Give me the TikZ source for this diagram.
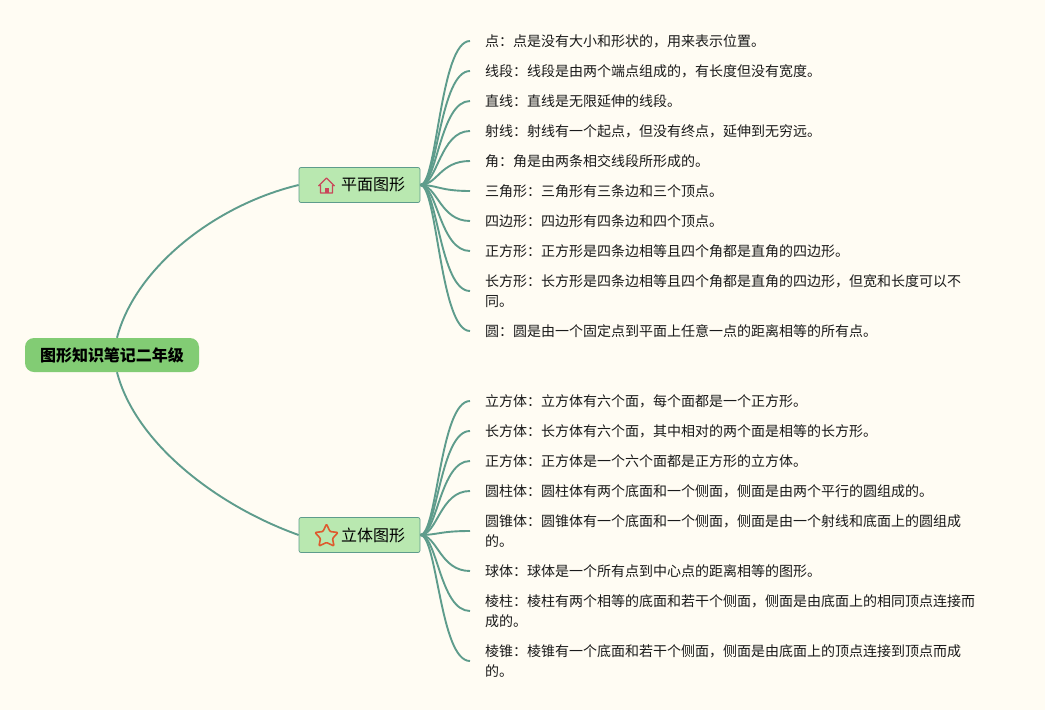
\documentclass[tikz,border=0pt]{standalone}
\usepackage{fontspec}
\setmainfont{Noto Sans CJK SC}
\usepackage{xcolor}
\definecolor{paperBg}{HTML}{FFFCF3}
\definecolor{branchTeal}{HTML}{5E9C8C}
\definecolor{rootGreen}{HTML}{82CC74}
\definecolor{topicGreen}{HTML}{B9E8B0}
\definecolor{topicEdge}{HTML}{5E9C8C}
\definecolor{inkText}{HTML}{1A1A1A}
\definecolor{houseRed}{HTML}{C9475A}
\definecolor{starRed}{HTML}{DE5A2E}
\usetikzlibrary{calc}
\tikzset{
    % Central title
    root/.style={
        rectangle,
        rounded corners=9pt,
        fill=rootGreen,
        minimum width=174pt,
        minimum height=34pt,
        font=\fontsize{16}{19}\selectfont\bfseries,
        text=black,
    },
    % Two main topics
    topic/.style={
        rectangle,
        rounded corners=2pt,
        draw=topicEdge,
        line width=0.7pt,
        fill=topicGreen,
        minimum width=121pt,
        minimum height=35pt,
        font=\fontsize{16}{19}\selectfont,
        text=black,
        inner xsep=0pt,
    },
    % Leaf notes, the west anchor is where the line ends
    leaf/.style={
        anchor=west,
        align=left,
        font=\fontsize{14}{20}\selectfont,
        text=inkText,
        inner xsep=15pt,
        inner ysep=0pt,
    },
    % Curved connectors
    branch/.style={
        draw=branchTeal,
        line width=1.9pt,
    },
}
% Fan from a topic to a leaf
\newcommand{\fan}[2]{\draw [branch] (#1.east) .. controls ($(#1.east)+(17,0)$) and ($(#2.west)+(-30,0)$) .. (#2.west);}
\begin{document}
\begin{tikzpicture}[x=1pt, y=-1pt]
    \fill [paperBg] (0,0) rectangle (1045,710);

    \node (root) [root] at (112,355) {\raisebox{-1pt}{图形知识笔记二年级}};
    \node (plane) [topic] at (359.5,185) {\hspace{27pt}\raisebox{-1.5pt}{平面图形}};
    \node (solid) [topic] at (359.5,535) {\hspace{27pt}\raisebox{-1.5pt}{立体图形}};

    \node (p1) [leaf] at (470,41) {点：点是没有大小和形状的，用来表示位置。};
    \node (p2) [leaf] at (470,71) {线段：线段是由两个端点组成的，有长度但没有宽度。};
    \node (p3) [leaf] at (470,101) {直线：直线是无限延伸的线段。};
    \node (p4) [leaf] at (470,131) {射线：射线有一个起点，但没有终点，延伸到无穷远。};
    \node (p5) [leaf] at (470,161) {角：角是由两条相交线段所形成的。};
    \node (p6) [leaf] at (470,191) {三角形：三角形有三条边和三个顶点。};
    \node (p7) [leaf] at (470,221) {四边形：四边形有四条边和四个顶点。};
    \node (p8) [leaf] at (470,251) {正方形：正方形是四条边相等且四个角都是直角的四边形。};
    \node (p9) [leaf] at (470,291) {长方形：长方形是四条边相等且四个角都是直角的四边形，但宽和长度可以不\\同。};
    \node (p10) [leaf] at (470,331) {圆：圆是由一个固定点到平面上任意一点的距离相等的所有点。};

    \node (s1) [leaf] at (470,401) {立方体：立方体有六个面，每个面都是一个正方形。};
    \node (s2) [leaf] at (470,431) {长方体：长方体有六个面，其中相对的两个面是相等的长方形。};
    \node (s3) [leaf] at (470,461) {正方体：正方体是一个六个面都是正方形的立方体。};
    \node (s4) [leaf] at (470,491) {圆柱体：圆柱体有两个底面和一个侧面，侧面是由两个平行的圆组成的。};
    \node (s5) [leaf] at (470,531) {圆锥体：圆锥体有一个底面和一个侧面，侧面是由一个射线和底面上的圆组成\\的。};
    \node (s6) [leaf] at (470,571) {球体：球体是一个所有点到中心点的距离相等的图形。};
    \node (s7) [leaf] at (470,611) {棱柱：棱柱有两个相等的底面和若干个侧面，侧面是由底面上的相同顶点连接而\\成的。};
    \node (s8) [leaf] at (470,661) {棱锥：棱锥有一个底面和若干个侧面，侧面是由底面上的顶点连接到顶点而成\\的。};

    \draw [branch] ($(root.north)+(5,0)$) .. controls (135,268) and (215,205) .. (plane.west);
    \draw [branch] ($(root.south)+(5,0)$) .. controls (135,442) and (215,505) .. (solid.west);

    \fan{plane}{p1} \fan{plane}{p2} \fan{plane}{p3} \fan{plane}{p4} \fan{plane}{p5}
    \fan{plane}{p6} \fan{plane}{p7} \fan{plane}{p8} \fan{plane}{p9} \fan{plane}{p10}
    \fan{solid}{s1} \fan{solid}{s2} \fan{solid}{s3} \fan{solid}{s4}
    \fan{solid}{s5} \fan{solid}{s6} \fan{solid}{s7} \fan{solid}{s8}

    % house icon
    \draw [houseRed, line width=1.3pt, line join=round] (318.5,186) -- (326.5,178) -- (334.5,186) (320.5,185) -- (320.5,193) -- (332.5,193) -- (332.5,185);
    \fill [houseRed] (324.5,187.5) rectangle (328.5,193);

    % star icon
    \draw [starRed, line width=1.6pt, line join=round, rounded corners=1pt]
        (326.5,524) -- (330,531.5) -- (338,532.5) -- (332.5,538.5) -- (334,546) -- (326.5,542.5) -- (319,546) -- (320.5,538.5) -- (315,532.5) -- (323,531.5) -- cycle;
\end{tikzpicture}
\end{document}
